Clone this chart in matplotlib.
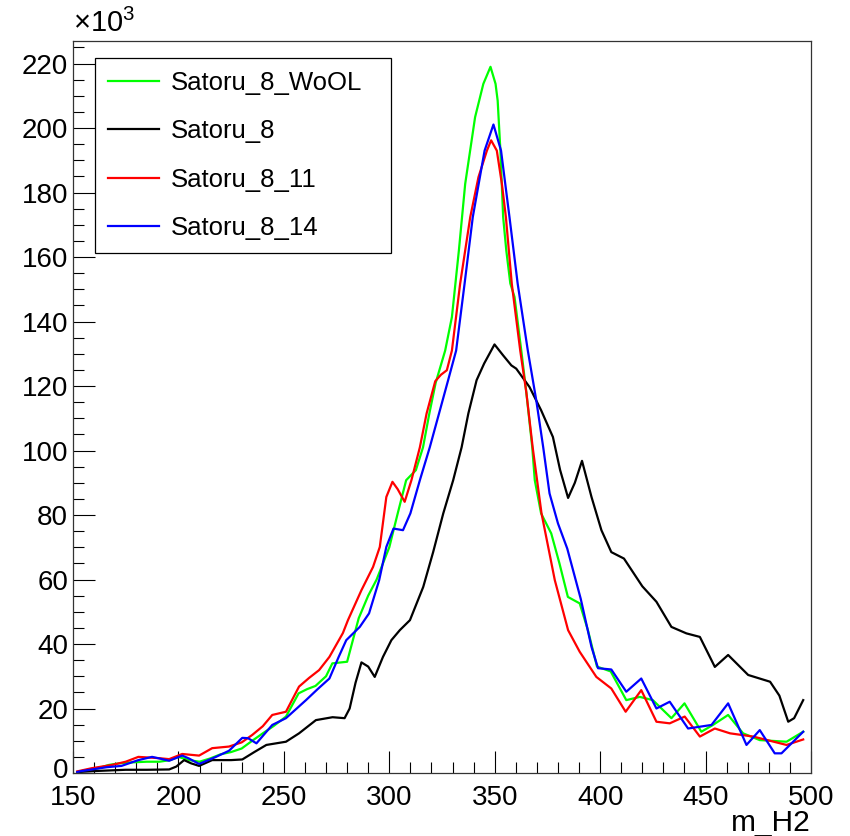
import matplotlib
matplotlib.use("Agg")
import matplotlib.pyplot as plt
from matplotlib.ticker import MultipleLocator, FuncFormatter

plt.rcParams['font.family'] = ['Liberation Sans', 'DejaVu Sans']
plt.rcParams['mathtext.fontset'] = 'custom'
plt.rcParams['mathtext.rm'] = 'Liberation Sans'
plt.rcParams['mathtext.it'] = 'Liberation Sans'

# ---- data (values in units of 10^3) ----
labels = ["Satoru_8_WoOL", "Satoru_8", "Satoru_8_11", "Satoru_8_14"]
colors = ["#00ff00", "#000000", "#ff0000", "#0000ff"]

green_x = [152, 157, 162, 167, 172, 178, 185, 191, 196, 200, 205, 210, 215, 220, 225, 230, 235, 240, 245, 251,
           257, 261, 265, 270, 273, 280, 285.5, 290, 294, 300, 304, 308, 312.6, 316, 319, 322, 326.5, 329.7, 333,
           336, 340.7, 344.6, 348, 350.4, 351.4, 352.7, 354, 355.5, 357.4, 359.4, 362.6, 365, 367.8, 369, 372,
           376.8, 380.7, 384.7, 390.3, 394.2, 398.5, 405, 412.4, 418.8, 425, 433.8, 440, 448, 453.5, 460.7, 467.8,
           475.7, 488.4, 496.3]
green_y = [0.3, 1.0, 1.5, 2.5, 3.0, 3.3, 3.5, 3.5, 4.0, 5.0, 4.0, 3.5, 4.5, 5.8, 6.5, 7.6, 10, 12.3, 14.5, 17.5,
           24.7, 26, 27, 30, 34, 34.5, 48, 55, 60, 70, 80.5, 90.8, 93.9, 101, 111.5, 121, 131, 141.4, 162,
           182.7, 203.4, 213.7, 219, 213.7, 208.5, 193, 172.4, 162, 151.8, 147.6, 131, 118, 101, 90.8, 80.5,
           74.3, 65, 54.6, 52.6, 44.3, 33, 31.5, 22.6, 23.6, 22.6, 17, 21.6, 12.8, 14.9, 18, 12.3,
           10.2, 9.7, 12.8]

black_x = [152, 160, 175, 185, 195.6, 199, 202.7, 206, 209.8, 216, 225, 230.3, 236, 241.7, 251, 257.2, 265.2,
           273.1, 278.8, 281.2, 284, 286.8, 290, 293.1, 297, 301, 305, 309.8, 316.1, 320.8, 325.6, 330.3, 334.3,
           337.5, 341.4, 345, 349.9, 354, 357.9, 360.2, 366.5, 372, 377.6, 381, 384.8, 388, 391.4, 395.9, 400.6,
           405.3, 411.3, 420, 426.7, 433.8, 440.9, 447.3, 454.4, 460.7, 470.2, 480.6, 485, 489.2, 492, 496.3]
black_y = [0.3, 0.6, 1, 1, 1.1, 2, 4, 3, 2.2, 4, 4, 4.2, 6.5, 8.7, 9.7, 12.3, 16.4,
           17.3, 17, 20, 28, 34.3, 33, 29.8, 36, 41.2, 44.3, 47.4, 57.7, 68.5, 80.5, 90.8, 101,
           111.5, 121.8, 127, 132.9, 129.5, 126.4, 125.4, 119.7, 112.5, 104.2, 94, 85.3, 90, 96.8, 85.6, 75.3,
           68.5, 66.5, 57.9, 53.1, 45.3, 43.3, 42.2, 32.9, 36.6, 30.4, 28.3, 24, 15.9, 17, 22.6]

red_x = [152, 159, 168.5, 175, 181, 186, 190.8, 195.6, 201.8, 209.8, 216, 224, 230, 235, 240, 244.5, 251, 257.2,
         262, 266.7, 271.6, 278, 280.4, 286.8, 292.3, 295.5, 298.6, 301.5, 304, 307.3, 310.5, 314.5, 317.7, 321.8,
         324.5, 327.3, 329.7, 333.6, 338.4, 342.3, 346.3, 348.3, 351, 353.4, 355.3, 358.1, 362.1, 365, 368,
         372.2, 378.5, 384.8, 390.3, 398.2, 405.3, 412.1, 419.5, 426.7, 433, 440.1, 447.3, 454.4, 461.6, 472.6,
         488.4, 496.3]
red_y = [0.5, 1.5, 2.5, 3.5, 5, 4.8, 4.6, 4.3, 5.9, 5.4, 7.7, 8.2, 9.5, 11.8, 14.5, 18, 19, 26.8,
         29.5, 31.9, 36, 43.4, 47.4, 56.7, 63.9, 70.1, 85.6, 90.3, 88, 84.1, 90.8, 101, 111.5, 121.5,
         123.5, 124.9, 131, 151.7, 172.4, 184.8, 193, 196.2, 193, 182.7, 172.4, 151.7, 131, 118, 101,
         80.5, 59.8, 44.3, 37.6, 29.8, 26.2, 19, 25.7, 15.9, 15.4, 17.5, 11.3, 13.8, 12.3, 11.3,
         8.7, 10.4]

blue_x = [152, 154, 160, 166, 173, 181, 187.5, 191, 195.6, 201.8, 205, 209.8, 217.8, 224, 230.3, 233, 237, 244.5,
          251, 260.5, 266, 271.6, 276, 279.6, 286, 290.4, 295.2, 298.6, 302, 306.5, 310, 314.5, 319.2, 323.6,
          327.9, 331.7, 335.7, 339.6, 345.2, 349.4, 353, 357, 360.9, 365.7, 369.7, 373, 376, 380, 384.4,
          390.8, 395.9, 399, 405.3, 412.4, 419.5, 426.7, 433, 441.7, 452.8, 460.7, 469.4, 475.7, 482.8, 486,
          496.3]
blue_y = [0.3, 0.6, 1.2, 1.8, 2.2, 4, 5, 4.5, 3.8, 5.4, 4.5, 2.8, 5, 6.9, 10.9, 10.8, 9.2, 14.9,
          17, 22.6, 26, 29.3, 36, 41.2, 45.3, 49.5, 59.8, 70.1, 75.8, 75.3, 80.5, 90.8, 101, 111.5,
          121.8, 131, 151.7, 172.4, 193, 201.1, 193, 172.4, 151.7, 131, 115.6, 101, 86.7, 77.4, 69.6,
          54, 39.1, 32.5, 32.1, 25.2, 29.3, 20, 22.1, 13.8, 14.9, 21.6, 8.7, 13.3, 6.1, 6.1,
          12.8]

series_x = [green_x, black_x, red_x, blue_x]
series_y = [green_y, black_y, red_y, blue_y]

x_range = (150, 500)
y_range = (0, 227)

fig = plt.figure(figsize=(8.5, 8.36), dpi=100)
ax = fig.add_axes([73/850, 1-773/836, (811-73)/850, (773-41)/836])

for xs, ys, c, lab in zip(series_x, series_y, colors, labels):
    ax.plot(xs, ys, color=c, lw=1.6, label=lab, solid_joinstyle='round')

ax.set_xlim(*x_range)
ax.set_ylim(*y_range)
ax.xaxis.set_major_locator(MultipleLocator(50))
ax.xaxis.set_minor_locator(MultipleLocator(10))
ax.yaxis.set_major_locator(MultipleLocator(20))
ax.yaxis.set_minor_locator(MultipleLocator(5))
# the "0" y label is drawn separately, nudged up a little so it does not touch "150"
ax.yaxis.set_major_formatter(FuncFormatter(lambda v, p: '' if abs(v) < 1e-9 else f'{v:g}'))
ax.tick_params(axis='both', which='both', direction='in', top=False, right=False, width=0.8)
ax.tick_params(axis='both', which='major', length=15.5, labelsize=20)
ax.tick_params(axis='both', which='minor', length=8)
ax.tick_params(axis='x', which='major', pad=8.5)
ax.tick_params(axis='y', which='major', pad=3.5)
for s in ax.spines.values():
    s.set_linewidth(0.9)
    s.set_color('#333333')

ax.annotate('0', xy=(0, y_range[0]), xycoords=('axes fraction', 'data'), xytext=(-3.5, 3.5),
            textcoords='offset points', ha='right', va='center_baseline', fontsize=20)

ax.text(0.0, 1.004, r'$\times10^{3}$', transform=ax.transAxes, ha='left', va='bottom', fontsize=21)
fig.text(811/850, 1-831/836, 'm_H2', ha='right', va='baseline', fontsize=21.5)

leg = ax.legend(loc='upper left', bbox_to_anchor=(0.0298, 0.68, 0.401, 0.9768-0.68), mode='expand',
                borderaxespad=0, fontsize=18.5, frameon=True, fancybox=False, framealpha=1,
                edgecolor='black', handlelength=2.0, handletextpad=0.47, labelspacing=0.95,
                borderpad=0.5)
leg.get_frame().set_linewidth(0.9)

fig.savefig('out.png', dpi=100)
